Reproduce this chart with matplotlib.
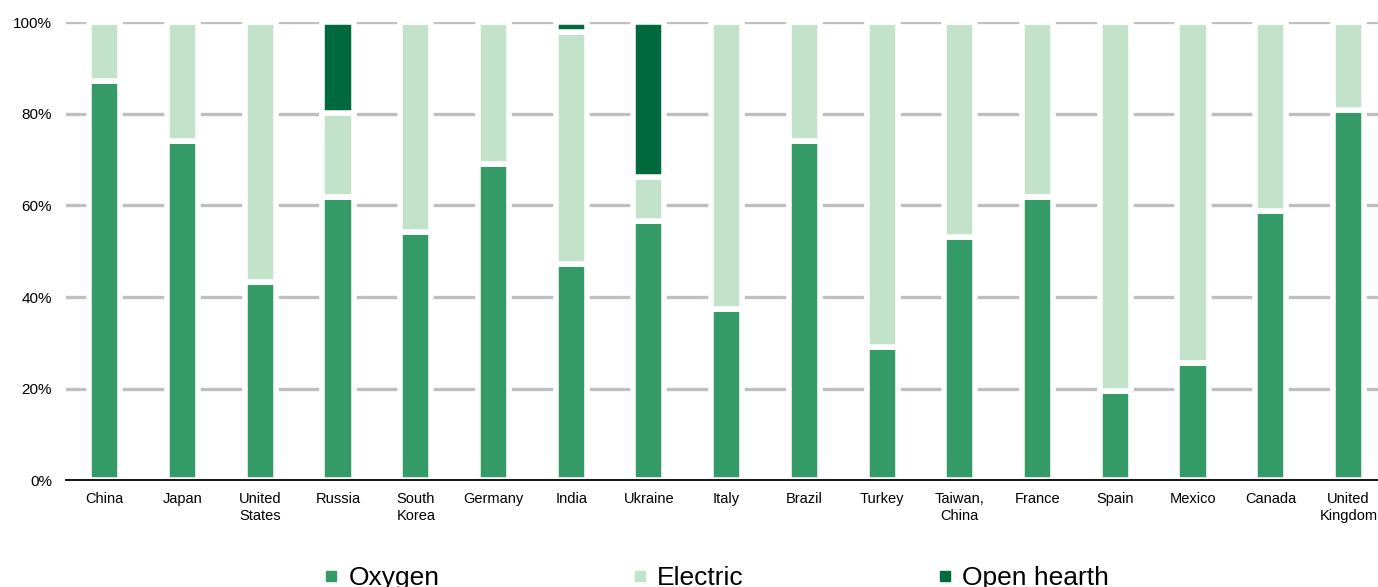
import matplotlib.pyplot as plt
from matplotlib.lines import Line2D
import numpy as np

plt.rcParams['font.family'] = ['Liberation Sans', 'DejaVu Sans']

countries = ['China', 'Japan', 'United\nStates', 'Russia', 'South\nKorea', 'Germany',
             'India', 'Ukraine', 'Italy', 'Brazil', 'Turkey', 'Taiwan,\nChina',
             'France', 'Spain', 'Mexico', 'Canada', 'United\nKingdom']

# share of crude steel output by process, %
oxygen = [87.2, 74.1, 43.2, 61.8, 54.2, 69.1, 47.2, 56.5, 37.5, 74.0, 29.1, 53.2,
          61.8, 19.6, 25.6, 58.7, 80.9]
open_hearth = [0, 0, 0, 19.9, 0, 0, 2.1, 33.8, 0, 0, 0, 0, 0, 0, 0, 0, 0]
electric = [100 - o - h for o, h in zip(oxygen, open_hearth)]

series_names = ['Oxygen', 'Electric', 'Open hearth']
colors = ['#349a66', '#c2e3c9', '#006a3e']

fig = plt.figure(figsize=(13.78, 5.87), dpi=100)
ax = fig.add_axes([66 / 1378, 106.6 / 587, 1312 / 1378, 458.4 / 587])

x = np.arange(len(countries))
bottom = np.zeros(len(countries))
for vals, color in zip([oxygen, electric, open_hearth], colors):
    vals = np.array(vals)
    ax.bar(x, vals, width=0.4, bottom=bottom, color=color, edgecolor='white',
           linewidth=4, zorder=2)
    bottom += vals

ax.set_xlim(-0.5, 16.38)
ax.set_ylim(0, 100)
ax.set_yticks([0, 20, 40, 60, 80, 100])
ax.set_yticklabels([f'{v}%' for v in [0, 20, 40, 60, 80, 100]], fontsize=11)
for v in [20, 40, 60, 80, 100]:
    ax.axhline(v, color='#bfbfbf', linewidth=2.4, zorder=1)

ax.set_xticks(x)
ax.set_xticklabels(countries, fontsize=10.5, linespacing=1.3)
ax.tick_params(axis='y', length=0, pad=10)
ax.tick_params(axis='x', length=0, pad=8)

for side in ['top', 'right', 'left']:
    ax.spines[side].set_visible(False)
ax.spines['bottom'].set_color('black')
ax.spines['bottom'].set_linewidth(1.3)
ax.spines['bottom'].set_zorder(3)

# legend sits at the very bottom edge, the way the chart was exported
handles = [Line2D([], [], marker='s', linestyle='none', markersize=7.2,
                  markerfacecolor=c, markeredgecolor=c) for c in colors]
fig.legend(handles, series_names, loc='center', bbox_to_anchor=(0.5196, 0.0157),
           ncol=3, frameon=False, fontsize=19, handlelength=0.6,
           handletextpad=0.345, columnspacing=7.31)

fig.savefig('out.png', dpi=100)
